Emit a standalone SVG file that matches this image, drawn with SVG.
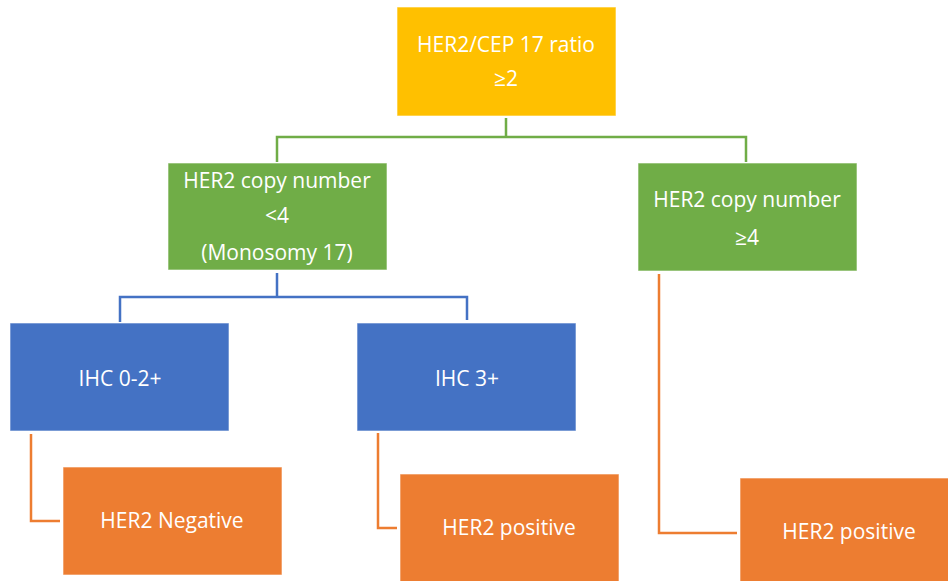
<svg xmlns="http://www.w3.org/2000/svg" width="948" height="581" viewBox="0 0 948 581">
<style>
.box{stroke:#ffffff;stroke-opacity:0.6;stroke-width:1}
.t{font-family:"Open Sans","Liberation Sans",sans-serif;font-size:21px;fill:#ffffff;text-anchor:middle}
.c{fill:none;stroke-width:2.5}
</style>
<rect width="948" height="581" fill="#ffffff"/>
<g id="connectors">
<path class="c" stroke="#70AD47" d="M506,118 V137 M277,162 V137 H746 V162"/>
<path class="c" stroke="#4472C4" d="M277,273 V297 M120,322 V297 H467 V320"/>
<path class="c" stroke="#ED7D31" d="M31,434 V521 H60"/>
<path class="c" stroke="#ED7D31" d="M378,433 V528 H397"/>
<path class="c" stroke="#ED7D31" d="M659,274 V533 H737"/>
</g>
<g id="ratio">
<rect class="box" x="397" y="7" width="219" height="109" fill="#FFC000"/>
<text class="t" x="506" y="52">HER2/CEP 17 ratio</text>
<text class="t" x="506" y="86">≥2</text>
</g>
<g id="copy-lt4">
<rect class="box" x="168" y="163" width="219" height="107" fill="#70AD47"/>
<text class="t" x="277" y="188">HER2 copy number</text>
<text class="t" x="277" y="223">&lt;4</text>
<text class="t" x="277" y="260">(Monosomy 17)</text>
</g>
<g id="copy-ge4">
<rect class="box" x="638" y="163" width="219" height="108" fill="#70AD47"/>
<text class="t" x="747" y="207">HER2 copy number</text>
<text class="t" x="747" y="245">≥4</text>
</g>
<g id="ihc02">
<rect class="box" x="10" y="323" width="219" height="108" fill="#4472C4"/>
<text class="t" x="120" y="386">IHC 0-2+</text>
</g>
<g id="ihc3">
<rect class="box" x="357" y="323" width="219" height="108" fill="#4472C4"/>
<text class="t" x="467" y="386">IHC 3+</text>
</g>
<g id="neg">
<rect class="box" x="63" y="467" width="219" height="108" fill="#ED7D31"/>
<text class="t" x="172" y="528">HER2 Negative</text>
</g>
<g id="pos1">
<rect class="box" x="400" y="474" width="219" height="108" fill="#ED7D31"/>
<text class="t" x="509" y="535">HER2 positive</text>
</g>
<g id="pos2">
<rect class="box" x="740" y="478" width="219" height="108" fill="#ED7D31"/>
<text class="t" x="849" y="539">HER2 positive</text>
</g>
</svg>
